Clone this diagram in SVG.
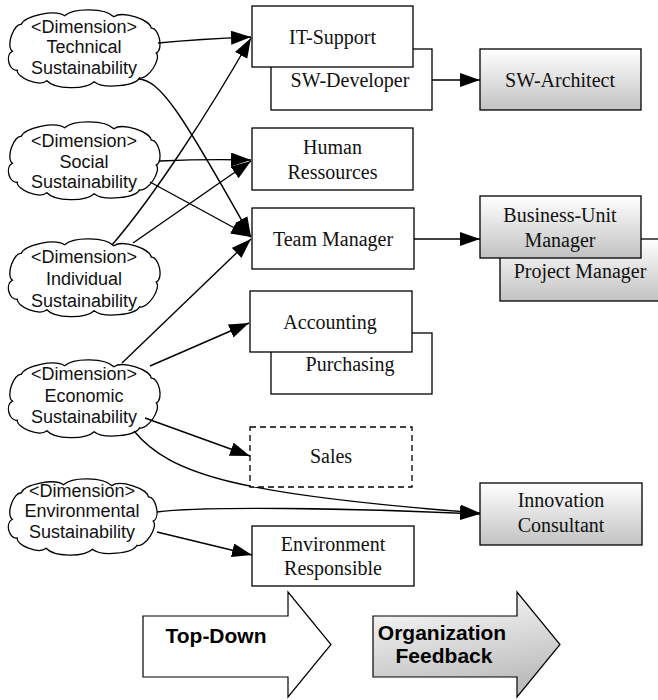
<svg xmlns="http://www.w3.org/2000/svg" width="658" height="700" viewBox="0 0 658 700">
<defs>
  <linearGradient id="gBox" x1="0" y1="0" x2="0" y2="1">
    <stop offset="0" stop-color="#ffffff"/>
    <stop offset="1" stop-color="#c2c2c2"/>
  </linearGradient>
  <linearGradient id="gArrow" x1="0" y1="0" x2="0.3" y2="1">
    <stop offset="0" stop-color="#ffffff"/>
    <stop offset="1" stop-color="#bdbdbd"/>
  </linearGradient>
  <marker id="ah" markerUnits="userSpaceOnUse" markerWidth="22" markerHeight="16" refX="20" refY="7" orient="auto">
    <path d="M0,0 L20,7 L0,14 z" fill="#000"/>
  </marker>
  <path id="cloud" vector-effect="non-scaling-stroke" d="M 5,42 C -2.2,36.85 6.8,12.4 14,14 C 17.4,5 48.3,-2.2 58,5 C 67.1,-3.8 99.35,-3.2 108,6 C 116.95,-0.6 144.7,9.3 146,18 C 153.3,16.9 159,39.7 151,44 C 156.6,50.1 142.35,72.45 134,70 C 129.75,78.45 97.65,82.2 88,74 C 78.85,82.8 47.8,82.2 40,73 C 32.2,79.8 8.8,69.6 10,62 C 1.8,63.4 -3,46.45 5,42 Z"/>
</defs>
<style>
  .box { fill: #fff; stroke: #000; stroke-width: 1.3; }
  .grad { fill: url(#gBox); stroke: #000; stroke-width: 1.3; }
  .dash { fill: #fff; stroke: #000; stroke-width: 1.3; stroke-dasharray: 6 4; }
  .cl { fill: #fff; stroke: #000; stroke-width: 1.3; }
  .st { font-family: "Liberation Serif", "Times New Roman", serif; font-size: 20px; fill: #111; text-anchor: middle; }
  .ct { font-family: "Liberation Sans", Arial, sans-serif; font-size: 18px; fill: #111; text-anchor: middle; }
  .bt { font-family: "Liberation Sans", Arial, sans-serif; font-size: 21px; font-weight: bold; fill: #000; text-anchor: middle; }
  .con { fill: none; stroke: #000; stroke-width: 1.4; marker-end: url(#ah); }
  .big { stroke: #000; stroke-width: 1.2; }
</style>
<rect width="658" height="700" fill="#fff"/>

<!-- Clouds -->
<g id="cloud-technical">
  <use href="#cloud" class="cl" transform="translate(7.5,11) scale(0.985,0.955)"/>
  <text class="ct" x="84" y="33">&lt;Dimension&gt;</text>
  <text class="ct" x="84" y="53">Technical</text>
  <text class="ct" x="84" y="74">Sustainability</text>
</g>
<g id="cloud-social">
  <use href="#cloud" class="cl" transform="translate(7.5,123) scale(0.985,0.955)"/>
  <text class="ct" x="84" y="147">&lt;Dimension&gt;</text>
  <text class="ct" x="84" y="168">Social</text>
  <text class="ct" x="84" y="188">Sustainability</text>
</g>
<g id="cloud-individual">
  <use href="#cloud" class="cl" transform="translate(7.5,240) scale(0.985,0.955)"/>
  <text class="ct" x="84" y="263">&lt;Dimension&gt;</text>
  <text class="ct" x="84" y="285">Individual</text>
  <text class="ct" x="84" y="307">Sustainability</text>
</g>
<g id="cloud-economic">
  <use href="#cloud" class="cl" transform="translate(7.5,361) scale(0.985,0.955)"/>
  <text class="ct" x="84" y="380">&lt;Dimension&gt;</text>
  <text class="ct" x="84" y="402">Economic</text>
  <text class="ct" x="84" y="423">Sustainability</text>
</g>
<g id="cloud-environmental">
  <use href="#cloud" class="cl" transform="translate(7.5,480) scale(0.965,0.935)"/>
  <text class="ct" x="82" y="497">&lt;Dimension&gt;</text>
  <text class="ct" x="82" y="517">Environmental</text>
  <text class="ct" x="82" y="538">Sustainability</text>
</g>

<!-- Connectors -->
<g id="connectors">
  <path class="con" d="M 158,43 Q 200,39 251,37"/>
  <path class="con" d="M 138,79 C 160,80 180,110 251,237"/>
  <path class="con" d="M 160,161 Q 205,159 251,160"/>
  <path class="con" d="M 150,182 L 251,237"/>
  <path class="con" d="M 112,245 C 155,195 210,110 251,38"/>
  <path class="con" d="M 133,243 L 251,161"/>
  <path class="con" d="M 122,363 L 251,239"/>
  <path class="con" d="M 150,366 L 249,323"/>
  <path class="con" d="M 145,418 L 250,456"/>
  <path class="con" d="M 134,431 C 170,475 240,495 480,513"/>
  <path class="con" d="M 157,512 C 200,506 350,508 480,514"/>
  <path class="con" d="M 157,532 L 252,555"/>
  <path class="con" d="M 432,80 L 480,80"/>
  <path class="con" d="M 414,239 L 480,239"/>
</g>

<!-- Boxes -->
<g id="sw-developer">
  <rect class="box" x="271" y="49" width="161" height="61"/>
  <text class="st" x="350" y="87">SW-Developer</text>
</g>
<g id="it-support">
  <rect class="box" x="252" y="6" width="161" height="61"/>
  <text class="st" x="332.5" y="44">IT-Support</text>
</g>
<g id="sw-architect">
  <rect class="grad" x="480" y="49" width="161" height="61"/>
  <text class="st" x="560" y="87">SW-Architect</text>
</g>
<g id="human-ressources">
  <rect class="box" x="252" y="128" width="161" height="62"/>
  <text class="st" x="332.5" y="154">Human</text>
  <text class="st" x="332.5" y="179">Ressources</text>
</g>
<g id="team-manager">
  <rect class="box" x="252" y="208" width="162" height="61"/>
  <text class="st" x="333" y="246">Team Manager</text>
</g>
<g id="project-manager">
  <rect class="grad" x="500" y="239" width="161" height="62"/>
  <text class="st" x="580" y="278">Project Manager</text>
</g>
<g id="business-unit-manager">
  <rect class="grad" x="480" y="196" width="161" height="62"/>
  <text class="st" x="560" y="222">Business-Unit</text>
  <text class="st" x="560" y="247">Manager</text>
</g>
<g id="purchasing">
  <rect class="box" x="271" y="333" width="161" height="61"/>
  <text class="st" x="350" y="371">Purchasing</text>
</g>
<g id="accounting">
  <rect class="box" x="250" y="291" width="162" height="61"/>
  <text class="st" x="330" y="329">Accounting</text>
</g>
<g id="sales">
  <rect class="dash" x="250" y="427" width="162" height="60"/>
  <text class="st" x="331" y="463">Sales</text>
</g>
<g id="innovation-consultant">
  <rect class="grad" x="480" y="483" width="162" height="62"/>
  <text class="st" x="561" y="507">Innovation</text>
  <text class="st" x="561" y="532">Consultant</text>
</g>
<g id="environment-responsible">
  <rect class="box" x="252" y="526" width="162" height="60"/>
  <text class="st" x="333" y="551">Environment</text>
  <text class="st" x="333" y="575">Responsible</text>
</g>

<!-- Big arrows -->
<g id="top-down">
  <path class="big" fill="#fff" d="M 143,616 L 288,616 L 288,592 L 331,644.5 L 288,697 L 288,677 L 143,677 Z"/>
  <text class="bt" x="216" y="643">Top-Down</text>
</g>
<g id="organization-feedback">
  <path class="big" fill="url(#gArrow)" d="M 373,616 L 517,616 L 517,592 L 560,644.5 L 517,697 L 517,677 L 373,677 Z"/>
  <text class="bt" x="442" y="640">Organization</text>
  <text class="bt" x="444" y="663">Feedback</text>
</g>
</svg>
